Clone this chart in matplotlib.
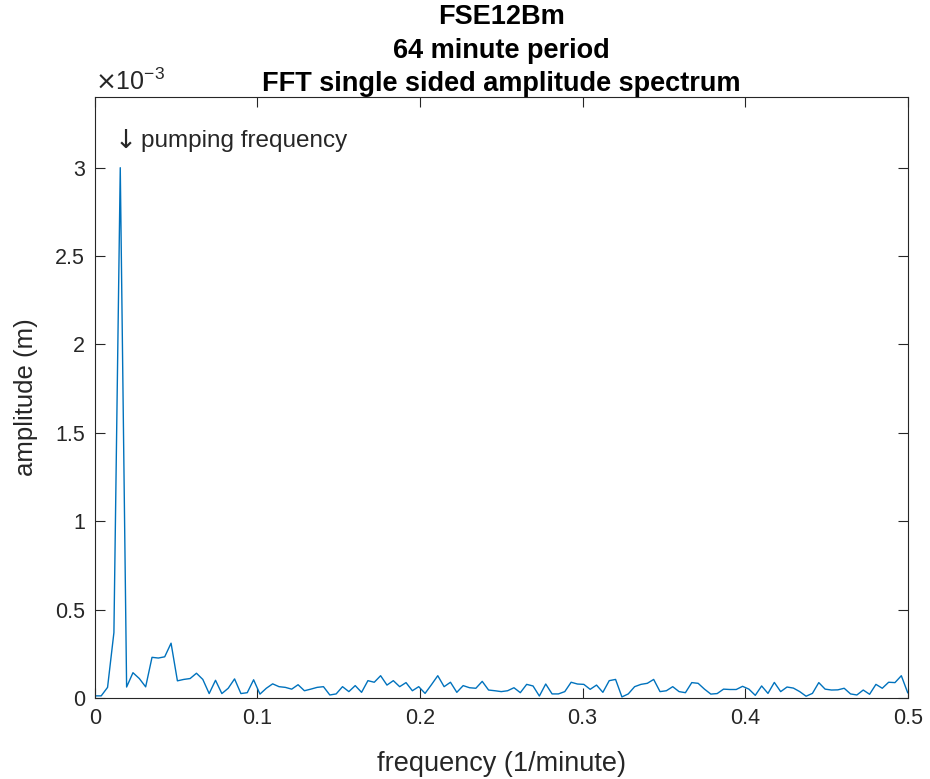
import numpy as np
import matplotlib
matplotlib.use("Agg")
import matplotlib.pyplot as plt
from matplotlib.ticker import FuncFormatter

# ---- data ----
n_samples = 256  # minutes, sampled once per minute
amplitude_e3 = [
    0.012, 0.012, 0.060, 0.370, 3.000, 0.062, 0.143, 0.110, 0.063, 0.230,
    0.226, 0.233, 0.310, 0.097, 0.105, 0.110, 0.140, 0.105, 0.025, 0.100,
    0.025, 0.055, 0.108, 0.025, 0.030, 0.103, 0.022, 0.055, 0.080, 0.064,
    0.060, 0.050, 0.075, 0.041, 0.050, 0.060, 0.064, 0.017, 0.023, 0.064,
    0.036, 0.070, 0.032, 0.098, 0.089, 0.126, 0.073, 0.098, 0.064, 0.087,
    0.041, 0.064, 0.026, 0.075, 0.126, 0.064, 0.089, 0.032, 0.070, 0.058,
    0.055, 0.094, 0.045, 0.041, 0.036, 0.041, 0.058, 0.030, 0.077, 0.068,
    0.011, 0.079, 0.023, 0.023, 0.036, 0.089, 0.079, 0.077, 0.049, 0.073,
    0.032, 0.098, 0.105, 0.006, 0.023, 0.064, 0.077, 0.083, 0.105, 0.036,
    0.041, 0.064, 0.036, 0.030, 0.087, 0.083, 0.050, 0.022, 0.025, 0.050,
    0.048, 0.048, 0.066, 0.050, 0.015, 0.068, 0.026, 0.088, 0.036, 0.062,
    0.056, 0.036, 0.010, 0.026, 0.087, 0.050, 0.045, 0.046, 0.055, 0.023,
    0.017, 0.045, 0.021, 0.077, 0.055, 0.089, 0.087, 0.126, 0.030,
]
frequency = np.arange(len(amplitude_e3)) / n_samples   # 1/minute
amplitude = np.array(amplitude_e3) * 1e-3               # m

title_lines = ["FSE12Bm", "64 minute period", "FFT single sided amplitude spectrum"]
annotation_arrow = "\u2193"
annotation_text = "pumping frequency"
pump_freq = 1 / 64
x_ticks = [0, 0.1, 0.2, 0.3, 0.4, 0.5]
y_ticks_e3 = [0, 0.5, 1, 1.5, 2, 2.5, 3]

# ---- style ----
plt.rcParams['font.family'] = ['Liberation Sans', 'DejaVu Sans']
dark = '#262626'
line_color = '#0072BD'

fig = plt.figure(figsize=(9.3, 7.79), dpi=100)
ax = fig.add_axes([0.102, 0.104, 0.874, 0.7715])

ax.plot(frequency, amplitude, color=line_color, linewidth=1.0)

ax.set_xlim(0, 0.5)
ax.set_ylim(0, 3.4e-3)
ax.set_xticks(x_ticks)
ax.xaxis.set_major_formatter(FuncFormatter(lambda v, p: f"{v:g}"))
ax.set_yticks(np.array(y_ticks_e3) * 1e-3)
ax.yaxis.set_major_formatter(FuncFormatter(lambda v, p: f"{v * 1e3:g}"))

ax.tick_params(direction='in', top=True, right=True, length=7, width=0.8,
               colors=dark, labelsize=15.5, pad=7)
for s in ax.spines.values():
    s.set_color(dark)
    s.set_linewidth(0.8)

# exponent label (MATLAB style) at the top-left corner of the axes
ax.text(0.0, 1.003, r"$\times$10$^{\mathregular{-3}}$", transform=ax.transAxes,
        fontsize=18, color=dark, ha='left', va='bottom')

ax.set_xlabel("frequency (1/minute)", fontsize=19.5, color=dark, labelpad=16)
ax.set_ylabel("amplitude (m)", fontsize=18.5, color=dark, labelpad=12)
ax.set_title("\n".join(title_lines), fontsize=19.5, fontweight='bold',
             color='black', linespacing=1.38, pad=4)

ax.text(pump_freq - 0.0035, 3.15e-3, annotation_arrow, fontsize=19,
        family='DejaVu Sans', color=dark, ha='left', va='center')
ax.text(pump_freq + 0.0125, 3.15e-3, annotation_text, fontsize=17.5, color=dark,
        ha='left', va='center')

fig.savefig("out.png", dpi=100)
